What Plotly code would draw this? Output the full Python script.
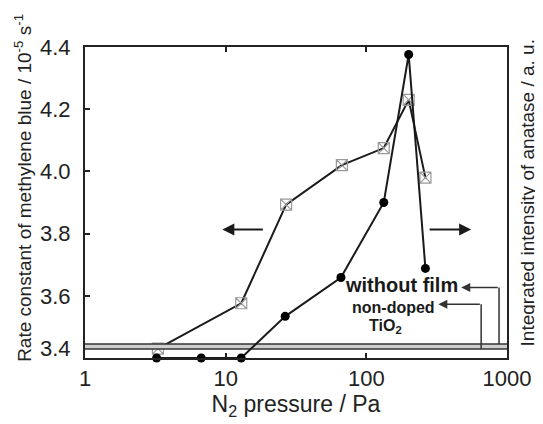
import plotly.graph_objects as go
import math

# Rate constant (left axis) – open squares
sq_x = [3.3, 12.9, 26.9, 67, 133, 200, 263]
sq_y = [3.43, 3.576, 3.893, 4.02, 4.075, 4.23, 3.98]

# Integrated intensity of anatase (right axis, a.u.) – filled circles
ci_x = [3.23, 6.7, 12.9, 26.5, 66, 133, 200, 263]
ci_y = [3.40, 3.40, 3.40, 3.534, 3.659, 3.90, 4.376, 3.688]

# Reference baselines (right axis)
without_film_level = 3.445
nondoped_level = 3.429

x_ticks = [1, 10, 100, 1000]
y_ticks = [3.4, 3.6, 3.8, 4.0, 4.2, 4.4]
y_tick_labels = ["%.1f" % v for v in y_ticks]

FONT = "Liberation Sans, Arial, sans-serif"
INK = "#1a1a1a"
AX = "#222"

fig = go.Figure()

# gray band between baselines
fig.add_trace(go.Scatter(x=[1, 1000, 1000, 1], y=[without_film_level, without_film_level, nondoped_level, nondoped_level],
                         fill="toself", fillcolor="#cfcfcf", line=dict(width=0), mode="lines",
                         yaxis="y2", showlegend=False, hoverinfo="skip"))
fig.add_trace(go.Scatter(x=[1, 1000], y=[without_film_level] * 2, mode="lines",
                         line=dict(color="#333", width=1.3), yaxis="y2", showlegend=False))
fig.add_trace(go.Scatter(x=[1, 1000], y=[nondoped_level] * 2, mode="lines",
                         line=dict(color="#333", width=1.3), yaxis="y2", showlegend=False))

# connectors from baselines to labels
wf_x, wf_top, wf_head = 878, 3.627, 473
nd_x, nd_top, nd_head = 655, 3.573, 325
fig.add_trace(go.Scatter(x=[wf_x, wf_x], y=[without_film_level, wf_top], mode="lines",
                         line=dict(color="#333", width=1.5), yaxis="y2", showlegend=False))
fig.add_trace(go.Scatter(x=[nd_x, nd_x], y=[nondoped_level, nd_top], mode="lines",
                         line=dict(color="#333", width=1.5), yaxis="y2", showlegend=False))

# squares series
fig.add_trace(go.Scatter(x=sq_x, y=sq_y, mode="lines+markers",
                         line=dict(color=INK, width=2),
                         marker=dict(symbol="square-x-open", size=11, color="#9a9a9a",
                                     line=dict(width=1.2, color="#9a9a9a")),
                         showlegend=False, cliponaxis=False))
# circles series
fig.add_trace(go.Scatter(x=ci_x, y=ci_y, mode="lines+markers",
                         line=dict(color=INK, width=2),
                         marker=dict(symbol="circle", size=9, color="black"),
                         yaxis="y2", showlegend=False, cliponaxis=False))

annotations = []
# direction arrows
annotations.append(dict(x=math.log10(9.47), y=3.813, xref="x", yref="y", ax=42, ay=0,
                        showarrow=True, arrowhead=2, arrowsize=1.2, arrowwidth=2, arrowcolor=INK, text=""))
annotations.append(dict(x=math.log10(556), y=3.813, xref="x", yref="y", ax=-43, ay=0,
                        showarrow=True, arrowhead=2, arrowsize=1.2, arrowwidth=2, arrowcolor=INK, text=""))
# label arrows
annotations.append(dict(x=math.log10(wf_head), y=wf_top, xref="x", yref="y2",
                        ax=38, ay=0, showarrow=True, arrowhead=2, arrowsize=1.2, arrowwidth=1.5,
                        arrowcolor="#333", text=""))
annotations.append(dict(x=math.log10(nd_head), y=nd_top, xref="x", yref="y2",
                        ax=43, ay=0, showarrow=True, arrowhead=2, arrowsize=1.2, arrowwidth=1.5,
                        arrowcolor="#333", text=""))
# labels
annotations.append(dict(x=math.log10(179), y=3.635, xref="x", yref="y2", text="<b>without film</b>",
                        showarrow=False, font=dict(family=FONT, size=20, color=INK)))
annotations.append(dict(x=math.log10(156), y=3.564, xref="x", yref="y2", text="<b>non-doped</b>",
                        showarrow=False, font=dict(family=FONT, size=16, color=INK)))
annotations.append(dict(x=math.log10(137), y=3.500, xref="x", yref="y2", text="<b>TiO<sub>2</sub></b>",
                        showarrow=False, font=dict(family=FONT, size=16, color=INK)))
# lowest y tick label sits slightly raised in the reference
annotations.append(dict(x=0, y=y_ticks[0], xref="paper", yref="y", xanchor="right", yanchor="middle",
                        xshift=-12, yshift=10, text=y_tick_labels[0], showarrow=False,
                        font=dict(family=FONT, size=22, color=AX)))
# axis titles (as annotations for exact placement)
annotations.append(dict(x=-0.1486, y=0.548, xref="paper", yref="paper", textangle=-90,
                        xanchor="center", yanchor="middle",
                        text="Rate constant of methylene blue / 10<sup>-5</sup> s<sup>-1</sup>",
                        showarrow=False, font=dict(family=FONT, size=19, color=AX)))
annotations.append(dict(x=1.0495, y=0.532, xref="paper", yref="paper", textangle=-90,
                        xanchor="center", yanchor="middle",
                        text="Integrated intensity of anatase / a. u.",
                        showarrow=False, font=dict(family=FONT, size=19, color=AX)))

fig.update_layout(
    width=535, height=416,
    margin=dict(l=77, r=34, t=39, b=66),
    paper_bgcolor="white", plot_bgcolor="white",
    font=dict(family=FONT, color=AX),
    xaxis=dict(type="log", range=[0, 3], tickvals=x_ticks, ticktext=[str(v) for v in x_ticks],
               ticks="inside", ticklen=5, tickwidth=1.5, tickcolor=AX,
               showline=True, linecolor=AX, linewidth=2, mirror="ticks",
               showgrid=False, zeroline=False,
               tickfont=dict(size=22, family=FONT, color=AX),
               title=dict(text="N<sub>2</sub> pressure / Pa", font=dict(size=23, family=FONT, color=AX),
                          standoff=4)),
    yaxis=dict(range=[3.4, 4.4], tickvals=y_ticks, ticktext=[""] + y_tick_labels[1:],
               ticks="inside", ticklen=5, tickwidth=1.5, tickcolor=AX,
               showline=True, linecolor=AX, linewidth=2, mirror=True,
               showgrid=False, zeroline=False, ticklabelstandoff=8,
               tickfont=dict(size=22, family=FONT, color=AX)),
    yaxis2=dict(range=[3.4, 4.4], overlaying="y", side="right", showticklabels=False,
                ticks="", showgrid=False, zeroline=False, showline=False),
    annotations=annotations,
    showlegend=False,
)

fig.write_html("out.html")
